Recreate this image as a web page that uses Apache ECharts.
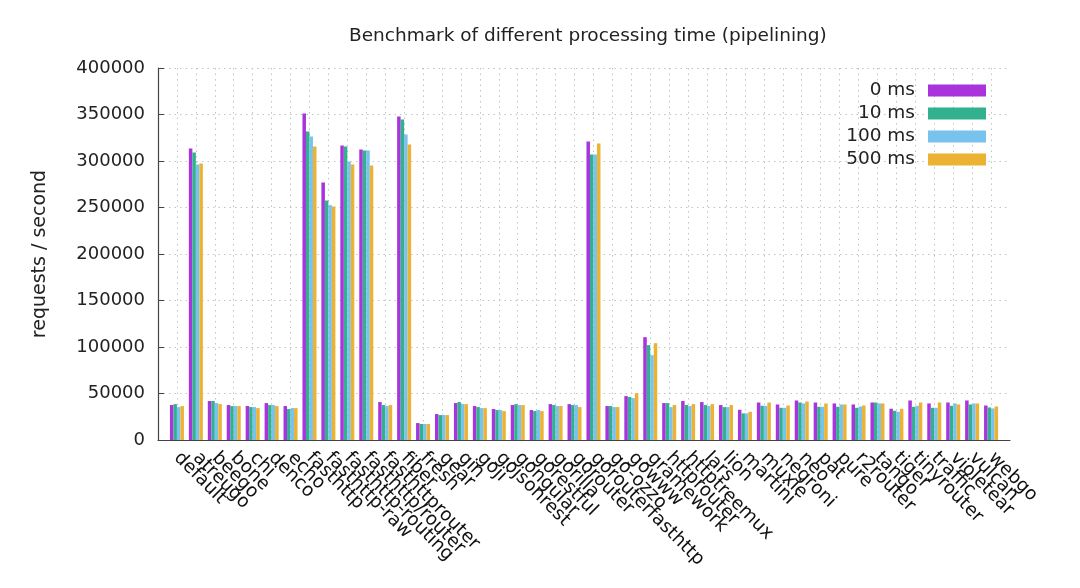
<!DOCTYPE html>
<html>
<head>
<meta charset="utf-8">
<script src="https://cdn.jsdelivr.net/npm/echarts@6/dist/echarts.min.js"></script>
<style>
html,body{margin:0;padding:0;background:#fff;}
#chart{width:1080px;height:588px;}
</style>
</head>
<body>
<div id="chart"></div>
<script>
const categories = ['default','atreugo','beego','bone','chi','denco','echo','fasthttp','fasthttp-raw','fasthttp-routing','fasthttp/router','fasthttprouter','fiber','fresh','gear','gin','goji','gojsonrest','gongular','gorestful','gorilla','gorouter','gorouterfasthttp','go-ozzo','gowww','gramework','httprouter','httptreemux','lars','lion','martini','muxie','negroni','neo','pat','pure','r2router','tango','tiger','tinyrouter','traffic','violetear','vulcan','webgo'];

const ms0   = [37600,313400,41900,37600,36500,39700,36500,351000,276900,316700,312400,40800,347800,18200,27900,39700,36500,33300,37600,32200,38600,38600,320900,36500,47200,110600,39700,41900,40800,37600,32500,40300,38200,42500,40300,39300,38200,40300,33600,42500,39300,40300,42500,37100];
const ms10  = [38600,309100,41900,36500,35400,37600,33300,331700,257600,315600,311300,37600,344600,17200,26800,40800,35400,32200,38600,31100,37600,37600,307000,36500,46200,102000,39700,37600,37600,35400,28600,36800,34600,40300,35700,35700,34600,40300,31400,35700,34600,36800,38200,35000];
const ms100 = [35400,296300,39700,36500,35400,37600,34300,326300,252600,299500,311300,36500,328500,17200,26800,38600,34300,32200,37600,32200,36500,37600,307000,35400,45100,91200,35400,36500,36500,35400,28600,36800,34600,39300,35700,38200,36000,39300,30300,36800,34600,39300,39300,33900];
const ms500 = [36500,297300,38600,36500,34300,36500,34300,315600,251200,296300,295200,37600,317700,17200,26800,38600,34300,31100,37600,31100,36500,35400,318800,35400,50400,104100,37600,38600,38600,37600,30300,40300,37100,41400,39300,38200,37100,39300,33600,40300,40300,38200,39300,36000];

const seriesNames = ['0 ms','10 ms','100 ms','500 ms'];
const seriesColors = ['#a933dc','#33b18f','#78c3ed','#ebb233'];
const yTicks = [0,50000,100000,150000,200000,250000,300000,350000,400000];

const xData = [''].concat(categories, ['']);
const pad = arr => ['-'].concat(arr, ['-']);
const allValues = [ms0, ms10, ms100, ms500];

const chart = echarts.init(document.getElementById('chart'), null, {renderer:'canvas'});
const font = 'DejaVu Sans';
const gridColor = '#b9c6ca';

chart.setOption({
  animation: false,
  backgroundColor: '#ffffff',
  title: {
    text: 'Benchmark of different processing time (pipelining)',
    left: 344, top: 22,
    textStyle: {fontFamily: font, fontSize: 18.5, fontWeight: 'normal', color: '#222'}
  },
  legend: {
    orient: 'vertical',
    right: 89, top: 76,
    align: 'right',
    itemWidth: 58, itemHeight: 12, itemGap: 4,
    icon: 'rect',
    textStyle: {fontFamily: font, fontSize: 18.5, lineHeight: 19, color: '#222', width: 90, align: 'right', padding: [0, 8, 0, 0]},
    data: seriesNames
  },
  grid: {left: 158, right: 70, top: 68, bottom: 148, containLabel: false},
  xAxis: {
    type: 'category',
    data: xData,
    boundaryGap: false,
    axisLine: {lineStyle: {color: '#444', width: 1.2}},
    axisTick: {show: false},
    axisLabel: {
      interval: 0, rotate: -45, margin: 15,
      fontFamily: font, fontSize: 18.5, color: '#111'
    },
    splitLine: {
      show: true,
      interval: function (idx) { return idx > 0 && idx < xData.length - 1; },
      lineStyle: {color: gridColor, type: [1.5, 4], width: 1}
    }
  },
  yAxis: {
    type: 'value',
    min: 0, max: 400000, interval: 50000,
    name: 'requests / second',
    nameLocation: 'middle',
    nameGap: 108,
    nameRotate: 90,
    nameTextStyle: {fontFamily: font, fontSize: 19, color: '#222'},
    axisLine: {show: true, lineStyle: {color: '#444', width: 1.2}},
    axisTick: {show: true, inside: true, length: 6, lineStyle: {color: '#444'}},
    axisLabel: {
      margin: 13, fontFamily: font, fontSize: 18, color: '#222',
      formatter: v => yTicks.indexOf(v) >= 0 ? String(v) : ''
    },
    splitLine: {show: true, lineStyle: {color: gridColor, type: [1.5, 4], width: 1}}
  },
  series: seriesNames.map((name, i) => ({
    name: name,
    type: 'bar',
    barWidth: 3.5,
    barGap: '0%',
    itemStyle: {color: seriesColors[i]},
    data: pad(allValues[i])
  }))
});
</script>
</body>
</html>
